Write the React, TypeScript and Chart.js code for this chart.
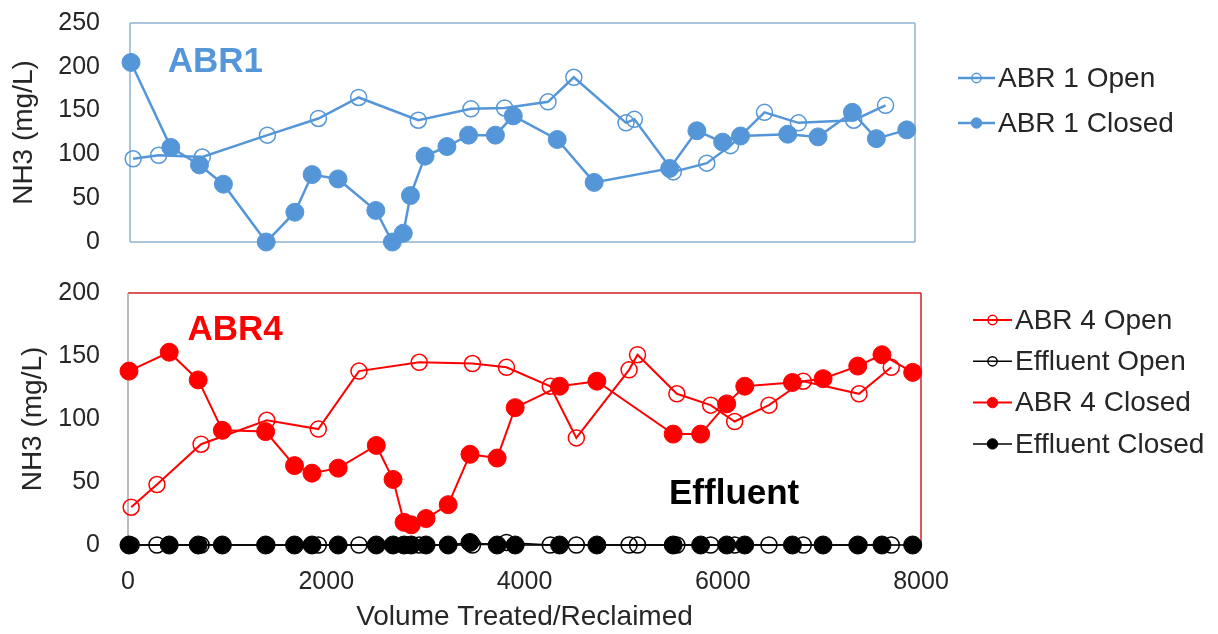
import React, { useEffect, useRef } from 'react';
import { Chart, registerables } from 'chart.js';

Chart.register(...registerables);

// ---- Data ----
const openVolume = [32, 292, 737, 1400, 1920, 2330, 2938, 3475, 3818, 4260, 4523, 5055, 5140, 5537, 5878, 6120, 6466, 6812, 7375, 7700];
const closedVolume = [10, 416, 708, 952, 1388, 1680, 1856, 2120, 2505, 2674, 2785, 2858, 3007, 3230, 3450, 3724, 3906, 4354, 4730, 5500, 5777, 6040, 6222, 6703, 7012, 7362, 7606, 7916];

const abr1Open = [95, 99, 97, 122, 141, 165, 139, 152, 153, 160, 188, 136, 140, 80, 90, 110, 148, 136, 139, 156];
const abr1Closed = [205, 108, 88, 66, 0, 34, 77, 72, 36, 0, 10, 53, 98, 109, 122, 122, 144, 117, 68, 84, 127, 114, 121, 123, 120, 148, 118, 128];
const abr4Open = [30, 48, 80, 99, 92, 138, 145, 144, 141, 126, 85, 139, 151, 120, 111, 98, 111, 130, 120, 141];
const abr4Closed = [138, 153, 131, 91, 90, 63, 57, 61, 79, 52, 18, 16, 21, 32, 72, 69, 109, 126, 130, 88, 88, 112, 126, 129, 132, 142, 151, 137];
const effluentOpen = [0, 0, 0, 0, 0, 0, 0, 0, 2, 0, 0, 0, 0, 0, 0, 0, 0, 0, 0, 0];
const effluentClosed = [0, 0, 0, 0, 0, 0, 0, 0, 0, 0, 0, 0, 0, 0, 2, 0, 0, 0, 0, 0, 0, 0, 0, 0, 0, 0, 0, 0];

const xTickStep = 2000;
const xMin = 0;
const xMax = 8000;
const topYMax = 250;
const bottomYMax = 200;
const yTickStep = 50;

const yTitle = 'NH3 (mg/L)';
const xTitle = 'Volume Treated/Reclaimed';

// ---- Styles ----
const FONT = "'Liberation Sans', Arial, Helvetica, sans-serif";
const BLUE = '#5596D8';
const RED = '#FF0000';
const BLACK = '#000000';
const TEXT = '#262626';
const NONE = 'rgba(0,0,0,0)';

const pts = (xs: number[], ys: number[]) => xs.map((x, i) => ({ x, y: ys[i] }));

// Frame around the plot area
const framePlugin = {
  id: 'frame',
  beforeDatasetsDraw(chart: any, _args: any, opts: any) {
    const { ctx, chartArea: a } = chart;
    ctx.save();
    ctx.lineWidth = opts.width || 1.5;
    const seg = (color: string, x1: number, y1: number, x2: number, y2: number) => {
      if (!color) return;
      ctx.strokeStyle = color;
      ctx.beginPath();
      ctx.moveTo(x1, y1);
      ctx.lineTo(x2, y2);
      ctx.stroke();
    };
    seg(opts.top, a.left, a.top, a.right, a.top);
    seg(opts.right, a.right, a.top, a.right, a.bottom);
    seg(opts.bottom, a.left, a.bottom, a.right, a.bottom);
    seg(opts.left, a.left, a.top, a.left, a.bottom);
    ctx.restore();
  },
};

// Excel-style legend (line + marker + label)
const sideLegendPlugin = {
  id: 'sideLegend',
  afterDraw(chart: any, _args: any, opts: any) {
    const { ctx } = chart;
    ctx.save();
    ctx.font = `${opts.fontSize}px ${FONT}`;
    ctx.textBaseline = 'middle';
    ctx.textAlign = 'left';
    chart.data.datasets.forEach((ds: any, i: number) => {
      const y = opts.y + i * opts.dy;
      ctx.strokeStyle = ds.borderColor;
      ctx.lineWidth = ds.borderWidth;
      ctx.beginPath();
      ctx.moveTo(opts.x, y);
      ctx.lineTo(opts.x + opts.lineLength, y);
      ctx.stroke();
      const cx = opts.x + opts.lineLength / 2;
      ctx.beginPath();
      ctx.arc(cx, y, ds.pointRadius * 0.58, 0, Math.PI * 2);
      ctx.fillStyle = ds.pointBackgroundColor;
      ctx.fill();
      ctx.lineWidth = ds.pointBorderWidth;
      ctx.strokeStyle = ds.pointBorderColor;
      ctx.stroke();
      ctx.fillStyle = opts.color;
      ctx.fillText(ds.label, opts.x + opts.lineLength + opts.gap, y + 1);
    });
    ctx.restore();
  },
};

// Panel titles placed in data coordinates
const textLabelPlugin = {
  id: 'textLabels',
  afterDatasetsDraw(chart: any, _args: any, opts: any) {
    const { ctx, scales } = chart;
    (opts.items || []).forEach((it: any) => {
      ctx.save();
      ctx.font = `bold ${it.size}px ${FONT}`;
      ctx.fillStyle = it.color;
      ctx.textAlign = 'center';
      ctx.textBaseline = 'middle';
      ctx.fillText(it.text, scales.x.getPixelForValue(it.x), scales.y.getPixelForValue(it.y));
      ctx.restore();
    });
  },
};

const tickFont = { family: FONT, size: 25 };
const titleFont = { family: FONT, size: 28 };
const plainNumber = (v: any) => String(v);

const openStyle = (color: string, width: number) => ({
  borderColor: color,
  borderWidth: width,
  pointRadius: 8,
  pointHoverRadius: 8,
  pointBackgroundColor: NONE,
  pointBorderColor: color,
  pointBorderWidth: 1.5,
  tension: 0,
  clip: false as const,
});
const closedStyle = (color: string, width: number) => ({
  borderColor: color,
  borderWidth: width,
  pointRadius: 9,
  pointHoverRadius: 9,
  pointBackgroundColor: color,
  pointBorderColor: color,
  pointBorderWidth: 1,
  tension: 0,
  clip: false as const,
});

const fixVertical = (width: number) => (s: any) => {
  s.width = width;
  s.paddingTop = 0;
  s.paddingBottom = 0;
};

const TOP_H = 268;
const BOTTOM_H = 366;

const topConfig: any = {
  type: 'line',
  data: {
    datasets: [
      { label: 'ABR 1 Open', data: pts(openVolume, abr1Open), ...openStyle(BLUE, 2.5) },
      { label: 'ABR 1 Closed', data: pts(closedVolume, abr1Closed), ...closedStyle(BLUE, 2.5) },
    ],
  },
  options: {
    animation: false,
    responsive: false,
    events: [],
    layout: { padding: { left: 0, top: 23, right: 303, bottom: 26 } },
    scales: {
      x: { type: 'linear', min: xMin, max: xMax, display: false },
      y: {
        min: 0,
        max: topYMax,
        ticks: { stepSize: yTickStep, padding: 30, font: tickFont, color: TEXT, callback: plainNumber },
        grid: { display: false, drawTicks: false },
        border: { display: false },
        title: { display: true, text: yTitle, font: titleFont, color: TEXT, padding: { top: 7, bottom: 0 } },
        afterFit: fixVertical(130),
      },
    },
    plugins: {
      legend: { display: false },
      tooltip: { enabled: false },
      frame: { top: '#8FB3D1', right: '#8FB3D1', bottom: '#8FB3D1', left: '#8FB3D1', width: 1.5 },
      sideLegend: { x: 958, y: 78, dy: 45, lineLength: 37, gap: 3, fontSize: 28, color: TEXT },
      textLabels: { items: [{ text: 'ABR1', x: 870, y: 205, size: 35, color: BLUE }] },
    },
  },
  plugins: [framePlugin, sideLegendPlugin, textLabelPlugin],
};

const bottomConfig: any = {
  type: 'line',
  data: {
    datasets: [
      { label: 'ABR 4 Open', data: pts(openVolume, abr4Open), ...openStyle(RED, 2) },
      { label: 'Effluent Open', data: pts(openVolume, effluentOpen), ...openStyle(BLACK, 1.5) },
      { label: 'ABR 4 Closed', data: pts(closedVolume, abr4Closed), ...closedStyle(RED, 2) },
      { label: 'Effluent Closed', data: pts(closedVolume, effluentClosed), ...closedStyle(BLACK, 1.5) },
    ],
  },
  options: {
    animation: false,
    responsive: false,
    events: [],
    layout: { padding: { left: 0, top: 25, right: 297, bottom: 0 } },
    scales: {
      x: {
        type: 'linear',
        min: xMin,
        max: xMax,
        ticks: { stepSize: xTickStep, padding: 22, font: tickFont, color: TEXT, maxRotation: 0, callback: plainNumber },
        grid: { display: false, drawTicks: false },
        border: { display: false },
        title: { display: true, text: xTitle, font: titleFont, color: TEXT, padding: { top: 0, bottom: 0 } },
        afterFit: (s: any) => {
          s.height = 89;
        },
      },
      y: {
        min: 0,
        max: bottomYMax,
        ticks: { stepSize: yTickStep, padding: 28, font: tickFont, color: TEXT, callback: plainNumber },
        grid: { display: false, drawTicks: false },
        border: { display: false },
        title: { display: true, text: yTitle, font: titleFont, color: TEXT, padding: { top: 16, bottom: 0 } },
        afterFit: fixVertical(128),
      },
    },
    plugins: {
      legend: { display: false },
      tooltip: { enabled: false },
      frame: { top: '#D02020', right: '#D02020', bottom: '#A6A6A6', left: '#A6A6A6', width: 1.5 },
      sideLegend: { x: 973, y: 52, dy: 41.3, lineLength: 39, gap: 3, fontSize: 28, color: TEXT },
      textLabels: {
        items: [
          { text: 'ABR4', x: 1080, y: 170, size: 35, color: RED },
          { text: 'Effluent', x: 6115, y: 40, size: 35, color: BLACK },
        ],
      },
    },
  },
  plugins: [framePlugin, sideLegendPlugin, textLabelPlugin],
};

function ChartCanvas({ config, width, height, top }: { config: any; width: number; height: number; top: number }) {
  const ref = useRef<HTMLCanvasElement | null>(null);
  useEffect(() => {
    if (!ref.current) return;
    const chart = new Chart(ref.current, config);
    return () => chart.destroy();
  }, [config]);
  return (
    <canvas
      ref={ref}
      width={width}
      height={height}
      style={{ position: 'absolute', left: 0, top, width, height, display: 'block' }}
    />
  );
}

export default function App() {
  return (
    <div style={{ position: 'fixed', left: 0, top: 0, width: 1218, height: 634, background: '#ffffff', overflow: 'hidden' }}>
      <ChartCanvas config={topConfig} width={1218} height={TOP_H} top={0} />
      <ChartCanvas config={bottomConfig} width={1218} height={BOTTOM_H} top={TOP_H} />
    </div>
  );
}
